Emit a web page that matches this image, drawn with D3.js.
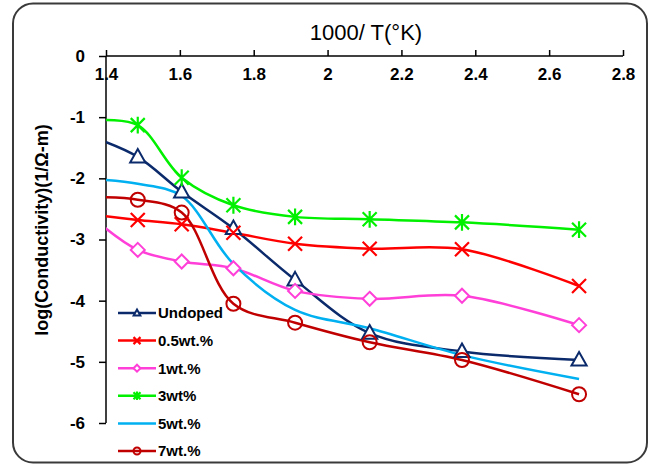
<!DOCTYPE html>
<html>
<head>
<meta charset="utf-8">
<script src="https://cdn.jsdelivr.net/npm/d3@7"></script>
<style>
  body { margin: 0; background: #fff; }
  svg { display: block; font-family: "Liberation Sans", Arial, sans-serif; }
</style>
</head>
<body>
<div id="chart"></div>
<script>
// 1000/T values (T = 450..100 C); first one lies left of the axis and is clipped
const invT = [1.383, 1.486, 1.605, 1.745, 1.912, 2.114, 2.364, 2.681];

const undoped = [-1.37, -1.65, -2.22, -2.82, -3.66, -4.53, -4.83, -4.97];
const wt05    = [-2.61, -2.68, -2.75, -2.89, -3.07, -3.15, -3.16, -3.76];
const wt1     = [-2.74, -3.17, -3.36, -3.47, -3.84, -3.97, -3.92, -4.40];
const wt3     = [-1.05, -1.13, -1.99, -2.44, -2.63, -2.67, -2.72, -2.84];
const wt5     = [-2.02, -2.09, -2.29, -3.40, -4.15, -4.45, -4.89, -5.28];
const wt7     = [-2.31, -2.35, -2.56, -4.05, -4.36, -4.68, -4.97, -5.53];

const seriesNames = ["Undoped", "0.5wt.%", "1wt.%", "3wt%", "5wt.%", "7wt.%"];
const xTicks = [1.4, 1.6, 1.8, 2, 2.2, 2.4, 2.6, 2.8];
const yTicks = [0, -1, -2, -3, -4, -5, -6];

const series = [
  {name: seriesNames[0], values: undoped, color: "#0b2a6b", marker: "triangle"},
  {name: seriesNames[1], values: wt05, color: "#ff0000", marker: "cross"},
  {name: seriesNames[2], values: wt1, color: "#ff3fd8", marker: "diamond"},
  {name: seriesNames[3], values: wt3, color: "#00f000", marker: "star"},
  {name: seriesNames[4], values: wt5, color: "#00b0f0", marker: null},
  {name: seriesNames[5], values: wt7, color: "#c00000", marker: "circle"}
];

const width = 652, height = 466;
const plotLeft = 106, plotRight = 623, plotTop = 56, plotBottom = 423;

const x = d3.scaleLinear().domain([1.4, 2.8]).range([plotLeft, plotRight]);
const y = d3.scaleLinear().domain([0, -6]).range([plotTop, plotBottom]);

const svg = d3.select("#chart").append("svg")
  .attr("width", width)
  .attr("height", height);

// outer rounded frame
svg.append("rect")
  .attr("x", 13).attr("y", 3.5)
  .attr("width", 634).attr("height", 459)
  .attr("rx", 20)
  .attr("fill", "#fff")
  .attr("stroke", "#3a3a3a")
  .attr("stroke-width", 2);

svg.append("defs").append("clipPath").attr("id", "plot")
  .append("rect")
  .attr("x", plotLeft).attr("y", plotTop - 10)
  .attr("width", plotRight - plotLeft + 10).attr("height", plotBottom - plotTop + 20);

// axes (plain hyphen for negatives, like the original)
const xAxis = svg.append("g")
  .attr("transform", `translate(0,${plotTop})`)
  .call(d3.axisTop(x).tickValues(xTicks).tickSize(6).tickFormat(d => String(d)));
xAxis.selectAll(".tick text")
  .attr("y", 12).attr("dy", "0.71em");

const yAxis = svg.append("g")
  .attr("transform", `translate(${plotLeft},0)`)
  .call(d3.axisLeft(y).tickValues(yTicks).tickSize(7).tickPadding(14).tickFormat(d => String(d)));

svg.selectAll(".domain").attr("stroke", "#000").attr("stroke-width", 1.5);
svg.selectAll(".tick line").attr("stroke", "#000").attr("stroke-width", 1.5);
svg.selectAll(".tick text")
  .attr("fill", "#000")
  .style("font-size", "17px")
  .style("font-weight", "bold");
// axis lines without the end caps
xAxis.select(".domain").attr("d", `M${plotLeft},0H${plotRight}`);
yAxis.select(".domain").attr("d", `M0,${plotTop}V${plotBottom}`);

// titles
svg.append("text")
  .attr("x", 366).attr("y", 40)
  .attr("text-anchor", "middle")
  .style("font-size", "22px")
  .text("1000/ T(\u00B0K)");

svg.append("text")
  .attr("transform", "translate(48,230) rotate(-90)")
  .attr("text-anchor", "middle")
  .style("font-size", "18px").style("font-weight", "bold")
  .text("log(Conductivity)(1/\u03A9-m)");

// markers
function drawMarker(g, type, color, s) {
  if (type === "triangle") {
    g.append("path")
      .attr("d", `M0,${-s}L${s * 0.95},${s * 0.7}L${-s * 0.95},${s * 0.7}Z`)
      .attr("fill", "#fff").attr("stroke", color).attr("stroke-width", 2);
  } else if (type === "cross") {
    g.append("path")
      .attr("d", `M${-s},${-s}L${s},${s}M${-s},${s}L${s},${-s}`)
      .attr("stroke", color).attr("stroke-width", 2.2);
  } else if (type === "diamond") {
    g.append("path")
      .attr("d", `M0,${-s}L${s},0L0,${s}L${-s},0Z`)
      .attr("fill", "#fff").attr("stroke", color).attr("stroke-width", 2);
  } else if (type === "star") {
    g.append("path")
      .attr("d", `M${-s},${-s}L${s},${s}M${-s},${s}L${s},${-s}M0,${-s * 1.2}V${s * 1.2}`)
      .attr("stroke", color).attr("stroke-width", 2.2);
  } else if (type === "circle") {
    g.append("circle")
      .attr("r", s)
      .attr("fill", "none").attr("stroke", color).attr("stroke-width", 2);
  }
}

const line = d3.line()
  .x((d, i) => x(invT[i]))
  .y(d => y(d))
  .curve(d3.curveCatmullRom.alpha(0.5));

const plot = svg.append("g").attr("clip-path", "url(#plot)");

series.forEach(s => {
  plot.append("path")
    .attr("d", line(s.values))
    .attr("fill", "none")
    .attr("stroke", s.color)
    .attr("stroke-width", 2.5);
});

series.forEach(s => {
  if (!s.marker) return;
  s.values.forEach((v, i) => {
    if (invT[i] < 1.4) return;
    const g = svg.append("g").attr("transform", `translate(${x(invT[i])},${y(v)})`);
    drawMarker(g, s.marker, s.color, s.marker === "triangle" ? 8 : 7);
  });
});

// legend
const legend = svg.append("g").attr("transform", "translate(118,313)");
series.forEach((s, i) => {
  const row = legend.append("g").attr("transform", `translate(0,${i * 27.6})`);
  row.append("line")
    .attr("x1", 0).attr("x2", 38)
    .attr("stroke", s.color).attr("stroke-width", 2.5);
  if (s.marker) {
    const g = row.append("g").attr("transform", "translate(19,0)");
    drawMarker(g, s.marker, s.color, 3.5);
  }
  row.append("text")
    .attr("x", 40).attr("dy", "0.36em")
    .style("font-size", "15px").style("font-weight", "bold")
    .text(s.name);
});
</script>
</body>
</html>
